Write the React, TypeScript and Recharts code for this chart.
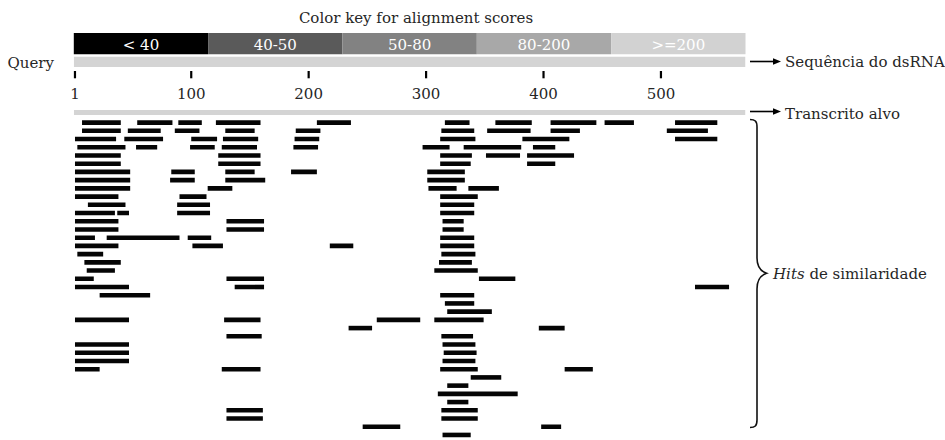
import React from 'react';
import { ScatterChart, Scatter, XAxis, YAxis, ReferenceArea } from 'recharts';

// ---- data ----
const QUERY_LENGTH = 572;
const AXIS_TICKS = [1, 100, 200, 300, 400, 500];
const SCORE_LABELS = ['< 40', '40-50', '50-80', '80-200', '>=200'];
const SCORE_COLORS = ['#000000', '#5a5a5a', '#828282', '#a8a8a8', '#d2d2d2'];
const TRANSCRIPT_ROW = -1.23;

// hits per row: [start, end] on the query
const HITS: [number, number][][] = [
  [[7, 40], [54, 84], [89, 109], [121, 159], [207, 236], [316, 337], [359, 390], [406, 445], [452, 477], [512, 548]],
  [[7, 40], [46, 74], [86, 107], [129, 154], [189, 210], [313, 341], [352, 389], [406, 431], [505, 540]],
  [[1, 36], [43, 76], [100, 122], [127, 157], [188, 209], [312, 342], [382, 422], [512, 548]],
  [[3, 44], [53, 71], [99, 120], [126, 156], [187, 208], [297, 320], [332, 381], [391, 410]],
  [[1, 40], [123, 159], [312, 339], [351, 380], [386, 426]],
  [[1, 40], [123, 159], [312, 338], [386, 410]],
  [[1, 48], [83, 103], [129, 154], [185, 207], [301, 333]],
  [[1, 48], [82, 103], [129, 163], [301, 333]],
  [[1, 48], [114, 135], [302, 326], [336, 362]],
  [[1, 38], [90, 113], [312, 344]],
  [[12, 44], [88, 116], [312, 341]],
  [[1, 35], [37, 47], [88, 116], [312, 341]],
  [[1, 38], [130, 162], [314, 332]],
  [[1, 38], [130, 162], [314, 332]],
  [[1, 18], [28, 90], [97, 117], [312, 341]],
  [[1, 38], [101, 127], [218, 238], [312, 341]],
  [[3, 25], [313, 342]],
  [[9, 40], [311, 339]],
  [[11, 35], [307, 344]],
  [[1, 17], [130, 162], [345, 376]],
  [[1, 47], [137, 162], [529, 558]],
  [[22, 65], [312, 341]],
  [[316, 341]],
  [[318, 356]],
  [[1, 47], [128, 159], [258, 295], [307, 349]],
  [[234, 254], [396, 418]],
  [[130, 160], [313, 340]],
  [[1, 47], [314, 342]],
  [[1, 47], [315, 343]],
  [[1, 47], [314, 342]],
  [[1, 22], [126, 159], [312, 344], [418, 442]],
  [[338, 364]],
  [[318, 336]],
  [[310, 378]],
  [[318, 336]],
  [[130, 161], [313, 344]],
  [[130, 161], [313, 344]],
  [[246, 278], [398, 415]],
  [[314, 338]],
  [[319, 336]],
];

// ---- layout / style ----
const FONT = "'DejaVu Serif', serif";
const TEXT = '#262626';
const PLOT_LEFT = 73.8;
const PLOT_RIGHT = 945 - 745.5;

const segments = HITS.flatMap((row, r) =>
  row.map(([s, e]) => [
    { x: s, y: r },
    { x: e, y: r },
  ])
);
const queryLine = [
  { x: 0, y: 61.85 },
  { x: QUERY_LENGTH, y: 61.85 },
];
const transcriptLine = [
  { x: 0, y: TRANSCRIPT_ROW },
  { x: QUERY_LENGTH, y: TRANSCRIPT_ROW },
];

const NoPoint = () => <g />;

const keyLabel = (text: string) => (props: any) => {
  const vb = props.viewBox || {};
  return (
    <text
      x={vb.x + vb.width / 2}
      y={vb.y + vb.height / 2 + 6.5}
      textAnchor="middle"
      fill="#ffffff"
      fontSize={15}
      fontFamily={FONT}
    >
      {text}
    </text>
  );
};

export default function App() {
  const band = QUERY_LENGTH / SCORE_LABELS.length;
  return (
    <div
      style={{
        position: 'absolute',
        left: 0,
        top: 0,
        width: 945,
        height: 440,
        overflow: 'hidden',
        background: '#ffffff',
        fontFamily: FONT,
      }}
    >
      <div style={{ position: 'absolute', left: 0, top: 0 }}>
        <ScatterChart width={945} height={105} margin={{ top: 0, right: PLOT_RIGHT, bottom: 0, left: PLOT_LEFT }}>
          <XAxis
            type="number"
            dataKey="x"
            domain={[0, QUERY_LENGTH]}
            ticks={AXIS_TICKS}
            interval={0}
            allowDataOverflow
            axisLine={false}
            tickLine={{ stroke: '#000', strokeWidth: 2.2 }}
            tickSize={7.3}
            tickMargin={10}
            height={34}
            tick={{ fill: TEXT, fontSize: 15, fontFamily: FONT }}
          />
          <YAxis type="number" dataKey="y" domain={[0, 71]} reversed hide width={0} />
          {SCORE_LABELS.map((lab, i) => (
            <ReferenceArea
              key={lab}
              x1={i * band}
              x2={(i + 1) * band}
              y1={33}
              y2={54.3}
              fill={SCORE_COLORS[i]}
              fillOpacity={1}
              stroke="none"
              ifOverflow="visible"
              label={keyLabel(lab)}
            />
          ))}
          <Scatter
            data={queryLine}
            line={{ stroke: '#d4d4d4', strokeWidth: 10.3 }}
            shape={NoPoint}
            legendType="none"
            isAnimationActive={false}
          />
        </ScatterChart>
      </div>

      <div style={{ position: 'absolute', left: 0, top: 100 }}>
        <ScatterChart width={945} height={351.4} margin={{ top: 6.16, right: PLOT_RIGHT, bottom: 0, left: PLOT_LEFT }}>
          <XAxis type="number" dataKey="x" domain={[0, QUERY_LENGTH]} hide height={0} allowDataOverflow />
          <YAxis type="number" dataKey="y" domain={[-2, 40]} reversed hide width={0} allowDataOverflow />
          <Scatter
            data={transcriptLine}
            line={{ stroke: '#d4d4d4', strokeWidth: 5 }}
            shape={NoPoint}
            legendType="none"
            isAnimationActive={false}
          />
          {segments.map((seg, i) => (
            <Scatter
              key={i}
              data={seg}
              line={{ stroke: '#050505', strokeWidth: 4.6 }}
              shape={NoPoint}
              legendType="none"
              isAnimationActive={false}
            />
          ))}
        </ScatterChart>
      </div>

      <svg
        width={945}
        height={440}
        style={{ position: 'absolute', left: 0, top: 0, pointerEvents: 'none' }}
      >
        <text x={416} y={23} textAnchor="middle" fill={TEXT} fontSize={15} fontFamily={FONT}>
          Color key for alignment scores
        </text>
        <text x={7.5} y={68} fill={TEXT} fontSize={15} fontFamily={FONT}>
          Query
        </text>
        <line x1={750} y1={61.5} x2={774} y2={61.5} stroke="#000" strokeWidth={1.6} />
        <polygon points="773,58.3 781,61.5 773,64.7" fill="#000" />
        <text x={785} y={67.3} fill={TEXT} fontSize={15} fontFamily={FONT}>
          Sequência do dsRNA
        </text>
        <line x1={750} y1={111.5} x2={774} y2={111.5} stroke="#000" strokeWidth={1.6} />
        <polygon points="773,108.3 781,111.5 773,114.7" fill="#000" />
        <text x={785} y={118.7} fill={TEXT} fontSize={15} fontFamily={FONT}>
          Transcrito alvo
        </text>
        <path
          d="M750,119.5 C755,119.5 757,121 757,127 L757,258 C757,266 760,271 766.5,273.3 C760,275.5 757,281 757,289 L757,420 C757,426 755,427.5 750,427.5"
          fill="none"
          stroke="#111"
          strokeWidth={1.6}
        />
        <text x={773} y={279.3} fill={TEXT} fontSize={15} fontFamily={FONT}>
          <tspan fontStyle="italic">Hits</tspan> de similaridade
        </text>
      </svg>
    </div>
  );
}
